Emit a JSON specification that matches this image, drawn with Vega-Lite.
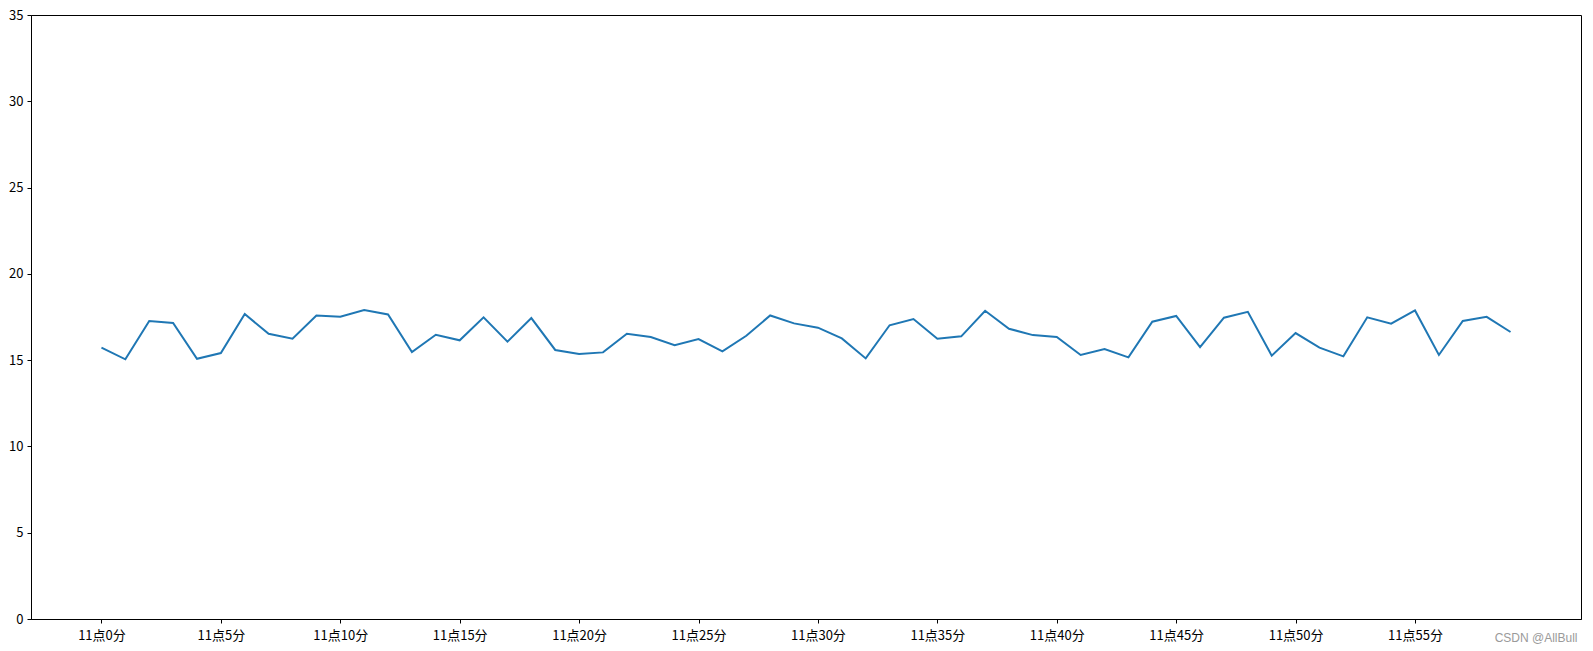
{
  "$schema": "https://vega.github.io/schema/vega-lite/v6.json",
  "width": 1550,
  "height": 604,
  "autosize": {"type": "none"},
  "padding": {"left": 31, "top": 15, "right": 12, "bottom": 32},
  "background": "white",
  "config": {
    "view": {"stroke": "black", "strokeWidth": 1},
    "font": "Noto Sans CJK SC"
  },
  "data": {
    "values": [
      {"m": 0, "v": 15.72}, {"m": 1, "v": 15.05}, {"m": 2, "v": 17.27}, {"m": 3, "v": 17.15},
      {"m": 4, "v": 15.08}, {"m": 5, "v": 15.41}, {"m": 6, "v": 17.67}, {"m": 7, "v": 16.53},
      {"m": 8, "v": 16.24}, {"m": 9, "v": 17.59}, {"m": 10, "v": 17.51}, {"m": 11, "v": 17.90},
      {"m": 12, "v": 17.65}, {"m": 13, "v": 15.47}, {"m": 14, "v": 16.47}, {"m": 15, "v": 16.15},
      {"m": 16, "v": 17.48}, {"m": 17, "v": 16.07}, {"m": 18, "v": 17.44}, {"m": 19, "v": 15.59},
      {"m": 20, "v": 15.35}, {"m": 21, "v": 15.45}, {"m": 22, "v": 16.53}, {"m": 23, "v": 16.34},
      {"m": 24, "v": 15.87}, {"m": 25, "v": 16.22}, {"m": 26, "v": 15.51}, {"m": 27, "v": 16.41},
      {"m": 28, "v": 17.59}, {"m": 29, "v": 17.13}, {"m": 30, "v": 16.88}, {"m": 31, "v": 16.26},
      {"m": 32, "v": 15.10}, {"m": 33, "v": 17.02}, {"m": 34, "v": 17.38}, {"m": 35, "v": 16.24},
      {"m": 36, "v": 16.38}, {"m": 37, "v": 17.86}, {"m": 38, "v": 16.82}, {"m": 39, "v": 16.45},
      {"m": 40, "v": 16.34}, {"m": 41, "v": 15.30}, {"m": 42, "v": 15.64}, {"m": 43, "v": 15.16},
      {"m": 44, "v": 17.23}, {"m": 45, "v": 17.56}, {"m": 46, "v": 15.76}, {"m": 47, "v": 17.46},
      {"m": 48, "v": 17.80}, {"m": 49, "v": 15.26}, {"m": 50, "v": 16.57}, {"m": 51, "v": 15.72},
      {"m": 52, "v": 15.22}, {"m": 53, "v": 17.48}, {"m": 54, "v": 17.11}, {"m": 55, "v": 17.88},
      {"m": 56, "v": 15.30}, {"m": 57, "v": 17.27}, {"m": 58, "v": 17.51}, {"m": 59, "v": 16.63}
    ]
  },
  "mark": {"type": "line", "color": "#1f77b4", "strokeWidth": 2, "clip": true},
  "encoding": {
    "x": {
      "field": "m",
      "type": "quantitative",
      "scale": {"domain": [-2.95, 61.95], "nice": false, "zero": false},
      "axis": {
        "values": [0, 5, 10, 15, 20, 25, 30, 35, 40, 45, 50, 55],
        "labelExpr": "'11点' + datum.value + '分'",
        "grid": false,
        "domainColor": "black",
        "tickColor": "black",
        "tickSize": 4,
        "labelColor": "black",
        "labelFontSize": 13,
        "labelPadding": 6,
        "labelFont": "Noto Sans CJK SC",
        "labelFlush": false,
        "title": "CSDN @AllBull",
        "titleFont": "Liberation Sans",
        "titleFontSize": 12,
        "titleFontWeight": "normal",
        "titleColor": "#9a9a9a",
        "titleAlign": "right",
        "titleAnchor": null,
        "titleBaseline": "middle",
        "titleX": 1546,
        "titleY": 18
      }
    },
    "y": {
      "field": "v",
      "type": "quantitative",
      "scale": {"domain": [0, 35], "nice": false},
      "axis": {
        "values": [0, 5, 10, 15, 20, 25, 30, 35],
        "grid": false,
        "domainColor": "black",
        "tickColor": "black",
        "tickSize": 4,
        "labelColor": "black",
        "labelFontSize": 13,
        "labelPadding": 4,
        "labelFont": "Noto Sans CJK SC",
        "labelFlush": false,
        "title": null
      }
    }
  }
}
